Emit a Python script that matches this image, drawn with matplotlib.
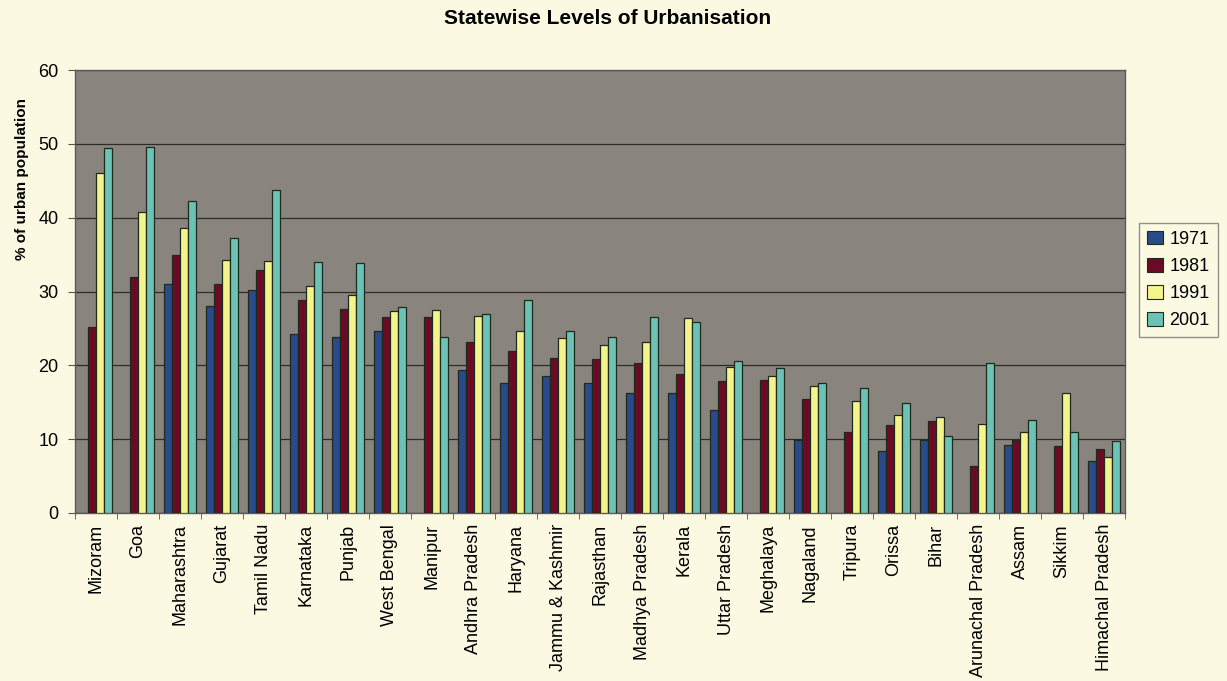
import numpy as np
import matplotlib.pyplot as plt
from matplotlib.patches import Patch

nan = np.nan

states = ['Mizoram', 'Goa', 'Maharashtra', 'Gujarat', 'Tamil Nadu', 'Karnataka',
          'Punjab', 'West Bengal', 'Manipur', 'Andhra Pradesh', 'Haryana',
          'Jammu & Kashmir', 'Rajasthan', 'Madhya Pradesh', 'Kerala',
          'Uttar Pradesh', 'Meghalaya', 'Nagaland', 'Tripura', 'Orissa', 'Bihar',
          'Arunachal Pradesh', 'Assam', 'Sikkim', 'Himachal Pradesh']

u1971 = [nan, nan, 31.0, 28.0, 30.2, 24.3, 23.8, 24.7, nan, 19.4, 17.6, 18.6, 17.6,
         16.3, 16.3, 14.0, nan, 9.9, nan, 8.4, 9.9, nan, 9.2, nan, 7.1]
u1981 = [25.2, 31.9, 35.0, 31.0, 32.9, 28.9, 27.6, 26.5, 26.5, 23.2, 21.9, 21.0, 20.9,
         20.3, 18.8, 17.9, 18.0, 15.5, 11.0, 11.9, 12.4, 6.4, 9.9, 9.1, 8.7]
u1991 = [46.0, 40.8, 38.6, 34.3, 34.1, 30.7, 29.5, 27.3, 27.5, 26.7, 24.6, 23.7, 22.7,
         23.1, 26.4, 19.8, 18.6, 17.2, 15.2, 13.3, 13.0, 12.1, 11.0, 16.2, 7.6]
u2001 = [49.5, 49.6, 42.3, 37.2, 43.8, 34.0, 33.8, 27.9, 23.9, 26.9, 28.9, 24.7, 23.9,
         26.6, 25.9, 20.6, 19.6, 17.6, 16.9, 14.9, 10.4, 20.3, 12.6, 11.0, 9.7]

years = ['1971', '1981', '1991', '2001']
series = [u1971, u1981, u1991, u2001]
colors = ['#2a4a8a', '#6a0a24', '#f4f48c', '#6cc2b4']

plt.rcParams['font.family'] = ['Liberation Sans', 'DejaVu Sans']

bg = '#fcf9e2'
fig = plt.figure(figsize=(12.27, 6.81), dpi=100, facecolor=bg)
ax = fig.add_axes([0.0611, 0.2467, 0.8558, 0.6505])
ax.set_facecolor('#8a847e')

x = np.arange(len(states))
w = 0.185
for i, (vals, c) in enumerate(zip(series, colors)):
    ax.bar(x + (i - 1.5) * w, vals, width=w, color=c, edgecolor='#1e2a1e',
           linewidth=0.9, zorder=3)

ax.set_xlim(-0.5, len(states) - 0.5)
ax.set_ylim(0, 60)
ax.set_yticks(range(0, 61, 10))
ax.yaxis.grid(True, color='#2e2c2a', linewidth=0.9, zorder=0)
ax.set_xticks(x)
ax.set_xticklabels(states, rotation=90, fontsize=13)
ax.set_xticks(np.arange(-0.5, len(states), 1), minor=True)
ax.tick_params(axis='x', which='major', length=0, pad=8)
ax.tick_params(axis='x', which='minor', length=4, color='#555555')
ax.tick_params(axis='y', length=5, labelsize=13, color='#555555', pad=7)

for s in ax.spines.values():
    s.set_color('#5a5a5a')
    s.set_linewidth(1.0)

# axis title sits in the upper half, as in the original sheet
fig.text(0.018, 0.737, '% of urban population', rotation=90, ha='center',
         va='center', fontsize=11, fontweight='bold')
fig.text(0.495, 0.973, 'Statewise Levels of Urbanisation', ha='center', va='center',
         fontsize=15, fontweight='bold')

handles = [Patch(facecolor=c, edgecolor='#1e2a1e', linewidth=0.8) for c in colors]
leg = fig.legend(handles, years, loc='center left', bbox_to_anchor=(0.928, 0.589),
                 frameon=True, fancybox=False, handlelength=0.9, handleheight=0.8,
                 handletextpad=0.35, labelspacing=0.55, borderpad=0.45,
                 borderaxespad=0, prop={'size': 13})
leg.get_frame().set_facecolor(bg)
leg.get_frame().set_edgecolor('#777777')

fig.savefig('out.png', dpi=100, facecolor=bg)
